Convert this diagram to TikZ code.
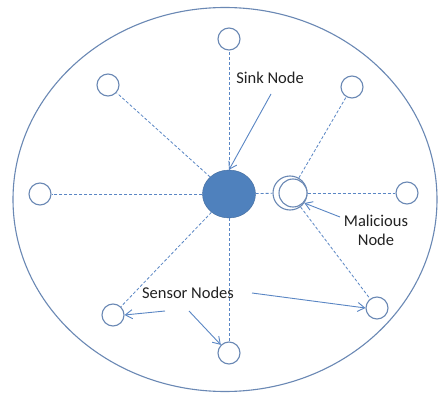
\documentclass[tikz,border=0pt]{standalone}
\usepackage{fontspec}
\setmainfont{Carlito}
\usetikzlibrary{arrows.meta,shapes.geometric}
\definecolor{edgeblue}{HTML}{6A88B4}
\definecolor{dashblue}{HTML}{5A86C4}
\definecolor{sinkfill}{HTML}{4F81BD}
\definecolor{sinkdraw}{HTML}{416A9C}
\definecolor{txt}{HTML}{222222}
\begin{document}
\begin{tikzpicture}[x=1pt,y=-1pt,
  sensor/.style={circle,draw=edgeblue,line width=1.1pt,fill=white,minimum size=22pt,inner sep=0pt},
  sink/.style={ellipse,draw=sinkdraw,fill=sinkfill,minimum width=53pt,minimum height=48pt,inner sep=0pt},
  malouter/.style={circle,draw=edgeblue,line width=1.1pt,fill=white,minimum size=34pt,inner sep=0pt},
  malinner/.style={circle,draw=edgeblue,line width=1.1pt,fill=white,minimum size=28pt,inner sep=0pt},
  link/.style={dashblue,densely dashed,line width=0.8pt},
  pointer/.style={dashblue,line width=0.9pt,-{Straight Barb[length=7pt,width=9pt]}},
  lab/.style={text=txt,font=\fontsize{16.5}{19}\selectfont,inner sep=0pt,align=center}]
\useasboundingbox (0,0) rectangle (439,393);
\fill[white] (0,0) rectangle (439,393);
\draw[edgeblue,line width=1.1pt] (225,199.5) ellipse [x radius=212, y radius=192];
\node[sensor] (top) at (229,39) {};
\node[sensor] (ul) at (108,85) {};
\node[sensor] (ur) at (352,87) {};
\node[sensor] (le) at (40,194) {};
\node[sensor] (ri) at (407,193) {};
\node[sensor] (ll) at (113,315) {};
\node[sensor] (bo) at (229,353) {};
\node[sensor] (lr) at (377,308) {};
\node[sink] (sink) at (229,194) {};
\node[malouter] (malo) at (290,193) {};
\node[malinner] (mal) at (293,193) {};
% links
\draw[link] (sink) -- (top);
\draw[link] (sink) -- (ul);
\draw[link] (sink) -- (le);
\draw[link] (sink) -- (ll);
\draw[link] (sink) -- (bo);
\draw[link] (sink) -- (malo);
\draw[link] (malo) -- (ur);
\draw[link] (mal) -- (ri);
\draw[link] (malo) -- (lr);
% labels
\node[lab] (sinklab) at (270,78) {Sink Node};
\node[lab] (mallab) at (376,230) {Malicious\\Node};
\node[lab] (senslab) at (188,293) {Sensor Nodes};
\coordinate (s1) at (271,94);
\coordinate (m1) at (340,217);
\coordinate (a1) at (165,311);
\coordinate (a2) at (189,311);
\coordinate (a3) at (252,293);
\draw[pointer] (s1) -- (sink.north);
\draw[pointer] (m1) -- (malo.-35);
\draw[pointer] (a1) -- (ll.east);
\draw[pointer] (a2) -- (bo.north west);
\draw[pointer] (a3) -- (lr.west);
\end{tikzpicture}
\end{document}
